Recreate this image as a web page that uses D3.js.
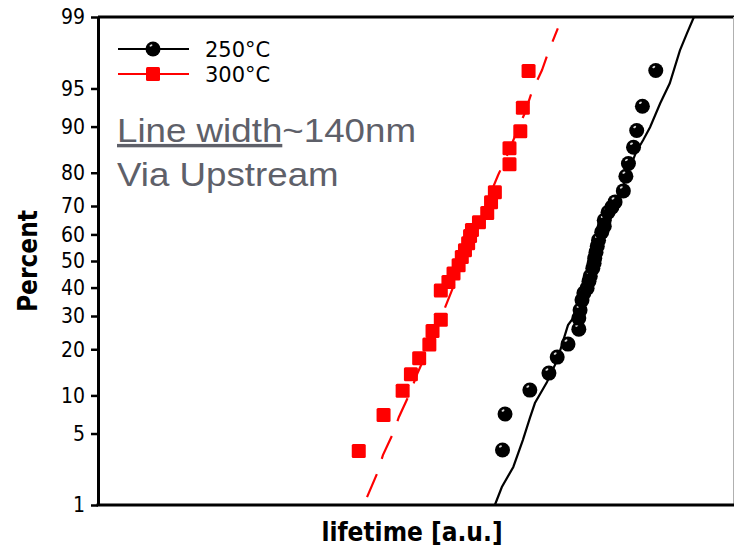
<!DOCTYPE html>
<html>
<head>
<meta charset="utf-8">
<script src="https://cdn.jsdelivr.net/npm/d3@7"></script>
<style>
  body { margin: 0; background: #fff; }
  svg { display: block; }
</style>
</head>
<body>
<div id="chart"></div>
<script>
// lifetime in a.u., cumulative failure percent
const t250 = [6.36, 6.40, 6.79, 7.09, 7.22, 7.39, 7.56, 7.56, 7.58, 7.61, 7.64, 7.69, 7.72, 7.74, 7.78, 7.80, 7.81,
              7.83, 7.85, 7.87, 7.92, 7.96, 7.96, 8.02, 8.08, 8.13, 8.26, 8.30, 8.34, 8.42, 8.47, 8.56, 8.77];
const p250 = [3.58, 7.23, 10.92, 14.26, 17.98, 21.41, 25.80, 29.30, 31.98, 35.46, 37.97, 39.79, 42.39, 44.26, 47.29, 49.18, 51.08,
              53.36, 55.63, 57.87, 60.83, 63.01, 65.14, 67.92, 69.61, 71.35, 74.81, 79.06, 82.37, 86.10, 89.32, 92.99, 96.53];

const t300 = [4.10, 4.49, 4.79, 4.92, 5.05, 5.21, 5.26, 5.39, 5.39, 5.51, 5.59, 5.67, 5.72, 5.77, 5.82, 5.85, 5.88,
              5.99, 6.12, 6.18, 6.24, 6.47, 6.47, 6.64, 6.68, 6.77];
const p300 = [3.5, 7.1, 10.8, 14.0, 17.7, 21.3, 25.2, 28.8, 38.9, 42.1, 45.3, 48.4, 51.5, 54.1, 56.7, 59.4, 61.6,
              64.4, 67.6, 71.2, 74.4, 82.2, 85.9, 89.2, 92.8, 96.5];

// fitted lines
const fit250_t = [6.24, 6.35, 6.53, 6.68, 6.79, 6.87, 7.06, 7.22, 7.39, 7.47, 7.66, 7.88, 8.08, 8.29, 8.46, 8.57, 8.68, 8.84, 8.99, 9.15, 9.26, 9.37];
const fit250_p = [1.0, 1.56, 2.48, 4.39, 6.71, 8.78, 12.42, 17.24, 27.05, 29.30, 40.90, 54.12, 66.89, 77.95, 85.02, 87.52, 89.89, 93.37, 95.49, 97.77, 98.50, 99.0];
const fit300_t = [4.23, 4.39, 4.48, 4.64, 4.73, 4.91, 5.03, 5.22, 5.39, 5.61, 5.82, 6.01, 6.16, 6.29, 6.40, 6.53, 6.64, 6.71, 6.82, 6.98, 7.08, 7.23];
const fit300_p = [1.22, 2.15, 3.21, 5.03, 6.82, 10.55, 14.45, 21.09, 29.30, 41.64, 54.12, 65.14, 73.48, 79.33, 83.17, 87.52, 90.55, 92.05, 94.62, 96.55, 97.67, 98.67];

const yTicks = [1, 5, 10, 20, 30, 40, 50, 60, 70, 80, 90, 95, 99];
const seriesNames = ["250°C", "300°C"];
const noteLines = ["Line width", "~140nm", "Via Upstream"];

const width = 735, height = 548;
const margin = {top: 17, right: 1, bottom: 43, left: 98};

// inverse normal cdf (Acklam)
function probit(p) {
    const a = [-39.69683028665376, 220.9460984245205, -275.9285104469687, 138.3577518672690, -30.66479806614716, 2.506628277459239];
    const b = [-54.47609879822406, 161.5858368580409, -155.6989798598866, 66.80131188771972, -13.28068155288572];
    const c = [-0.007784894002430293, -0.3223964580411365, -2.400758277161838, -2.549732539343734, 4.374664141464968, 2.938163982698783];
    const d = [0.007784695709041462, 0.3224671290700398, 2.445134137142996, 3.754408661907416];
    const pl = 0.02425;
    let q, r;
    if (p < pl) {
        q = Math.sqrt(-2 * Math.log(p));
        return (((((c[0]*q+c[1])*q+c[2])*q+c[3])*q+c[4])*q+c[5]) / ((((d[0]*q+d[1])*q+d[2])*q+d[3])*q+1);
    }
    if (p > 1 - pl) {
        q = Math.sqrt(-2 * Math.log(1 - p));
        return -(((((c[0]*q+c[1])*q+c[2])*q+c[3])*q+c[4])*q+c[5]) / ((((d[0]*q+d[1])*q+d[2])*q+d[3])*q+1);
    }
    q = p - 0.5;
    r = q * q;
    return (((((a[0]*r+a[1])*r+a[2])*r+a[3])*r+a[4])*r+a[5])*q / (((((b[0]*r+b[1])*r+b[2])*r+b[3])*r+b[4])*r+1);
}

const svg = d3.select("#chart").append("svg")
    .attr("width", width)
    .attr("height", height);

const x = d3.scaleLinear().domain([0, 10]).range([margin.left, width - margin.right]);
const zScale = d3.scaleLinear().domain([probit(0.01), probit(0.99)]).range([height - margin.bottom, margin.top]);
const y = p => zScale(probit(p / 100));

// frame: top black, right light gray
svg.append("line")
    .attr("x1", x(0)).attr("x2", x(10))
    .attr("y1", y(99)).attr("y2", y(99))
    .attr("stroke", "#000").attr("stroke-width", 3);
svg.append("line")
    .attr("x1", x(10) - 0.5).attr("x2", x(10) - 0.5)
    .attr("y1", y(99)).attr("y2", y(1))
    .attr("stroke", "#b0b0b0").attr("stroke-width", 1);

// y axis
const yAxis = d3.axisLeft(zScale)
    .tickValues(yTicks.map(v => probit(v / 100)))
    .tickFormat((d, i) => yTicks[i])
    .tickSizeInner(7)
    .tickSizeOuter(0)
    .tickPadding(6);

const gy = svg.append("g")
    .attr("transform", `translate(${margin.left},0)`)
    .call(yAxis);
gy.select(".domain").attr("stroke", "#000").attr("stroke-width", 3);
gy.selectAll(".tick line").attr("stroke", "#000").attr("stroke-width", 2.5);
gy.selectAll(".tick text")
    .attr("fill", "#000")
    .style("font-family", "'DejaVu Sans Condensed', 'DejaVu Sans', sans-serif")
    .style("font-size", "21px");

// x axis (no ticks)
svg.append("line")
    .attr("x1", x(0) - 1.5).attr("x2", x(10))
    .attr("y1", y(1)).attr("y2", y(1))
    .attr("stroke", "#000").attr("stroke-width", 3);

// axis titles
svg.append("text")
    .attr("transform", `translate(37,${(y(1) + y(99)) / 2}) rotate(-90)`)
    .attr("text-anchor", "middle")
    .style("font-family", "'DejaVu Sans Condensed', 'DejaVu Sans', sans-serif")
    .style("font-weight", "bold")
    .style("font-size", "26px")
    .text("Percent");

svg.append("text")
    .attr("x", 412)
    .attr("y", 541)
    .attr("text-anchor", "middle")
    .style("font-family", "'DejaVu Sans Condensed', 'DejaVu Sans', sans-serif")
    .style("font-weight", "bold")
    .style("font-size", "26px")
    .text("lifetime [a.u.]");

// fit lines
const line = d3.line().x(d => x(d[0])).y(d => y(d[1])).curve(d3.curveLinear);

svg.append("path")
    .datum(d3.zip(fit300_t, fit300_p))
    .attr("d", line)
    .attr("fill", "none")
    .attr("stroke", "#ff0000")
    .attr("stroke-width", 2.2)
    .attr("stroke-dasharray", "25,16");

svg.append("path")
    .datum(d3.zip(fit250_t, fit250_p))
    .attr("d", line)
    .attr("fill", "none")
    .attr("stroke", "#000")
    .attr("stroke-width", 2.2);

// markers
function drawCircle(g, cx, cy) {
    g.append("circle").attr("cx", cx).attr("cy", cy).attr("r", 7.5).attr("fill", "#000");
    g.append("ellipse").attr("cx", cx - 2).attr("cy", cy - 3.5).attr("rx", 1.6).attr("ry", 1)
        .attr("fill", "#fff").attr("opacity", 0.85)
        .attr("transform", `rotate(-30,${cx - 2},${cy - 3.5})`);
}
function drawSquare(g, cx, cy) {
    g.append("rect").attr("x", cx - 7).attr("y", cy - 7).attr("width", 14).attr("height", 14)
        .attr("rx", 1.5).attr("fill", "#ff0000");
}

const sq = svg.append("g");
d3.zip(t300, p300).forEach(d => drawSquare(sq, x(d[0]), y(d[1])));

const ci = svg.append("g");
d3.zip(t250, p250).forEach(d => drawCircle(ci, x(d[0]), y(d[1])));

// legend
const legend = svg.append("g");
const legColors = ["#000", "#ff0000"];
seriesNames.forEach((name, i) => {
    const ly = 49 + i * 25;
    legend.append("line")
        .attr("x1", 118).attr("x2", 189)
        .attr("y1", ly).attr("y2", ly)
        .attr("stroke", legColors[i]).attr("stroke-width", 2);
    if (i === 0) drawCircle(legend, 153, ly);
    else drawSquare(legend, 153, ly);
    legend.append("text")
        .attr("x", 205)
        .attr("y", ly + 7.5)
        .style("font-family", "'DejaVu Sans', sans-serif")
        .style("font-size", "21px")
        .attr("fill", "#000")
        .text(name);
});

// annotation (font in the original is a bit wider than Liberation Sans)
const noteG = svg.append("g")
    .attr("transform", "translate(117,0) scale(1.08,1)");

const note = noteG.append("text")
    .attr("x", 0)
    .attr("y", 142)
    .attr("fill", "#5e6069")
    .style("font-family", "'Liberation Sans', Arial, sans-serif")
    .style("font-size", "34px");
note.append("tspan").style("text-decoration", "underline").text(noteLines[0]);
note.append("tspan").text(noteLines[1]);

noteG.append("text")
    .attr("x", 0)
    .attr("y", 186)
    .attr("fill", "#5e6069")
    .style("font-family", "'Liberation Sans', Arial, sans-serif")
    .style("font-size", "34px")
    .text(noteLines[2]);
</script>
</body>
</html>
